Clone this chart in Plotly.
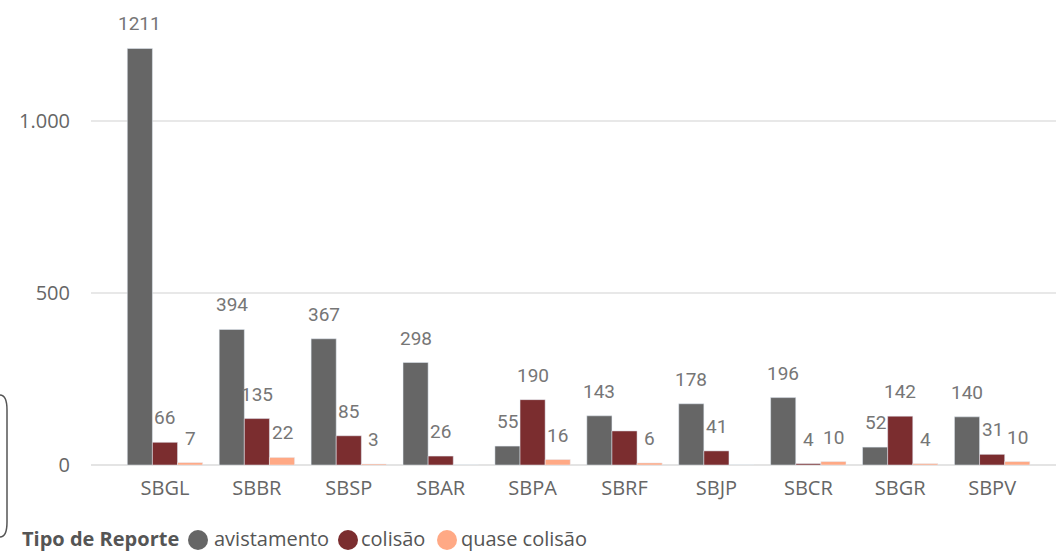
import plotly.graph_objects as go

categories = ["SBGL", "SBBR", "SBSP", "SBAR", "SBPA", "SBRF", "SBJP", "SBCR", "SBGR", "SBPV"]
avistamento = [1211, 394, 367, 298, 55, 143, 178, 196, 52, 140]
colisao = [66, 135, 85, 26, 190, 99, 41, 4, 142, 31]
quase_colisao = [7, 22, 3, 0, 16, 6, 0, 10, 4, 10]
series_names = ["avistamento", "colisão", "quase colisão"]
y_ticks = [0, 500, 1000]
y_tick_labels = ["0", "500", "1.000"]
legend_title = "Tipo de Reporte"

colors = ["#666666", "#7B2D2F", "#FFA985"]
series = [avistamento, colisao, quase_colisao]
# labels not shown in the reference
hidden = {(1, 5), (2, 3), (2, 6)}

W, H = 1056, 551
ML, MR, MT, MB = 91, 0, 0, 86
plot_w = W - ML - MR
plot_h = H - MT - MB
BARGAP = 0.18
bar_w = (1 - BARGAP) / len(series)

def px_to_paper(px, py):
    return (px - ML) / plot_w, (H - MB - py) / plot_h

fig = go.Figure()
for si, (name, vals, col) in enumerate(zip(series_names, series, colors)):
    fig.add_trace(go.Bar(
        x=categories, y=vals, name=name, marker_color=col,
        showlegend=False, hoverinfo="x+y+name",
    ))
    for ci, v in enumerate(vals):
        if (si, ci) in hidden:
            continue
        fig.add_annotation(
            x=ci + (si - 1) * bar_w, y=v, xref="x", yref="y",
            text=str(v), showarrow=False, yanchor="bottom", yshift=11,
            font=dict(family="Roboto, DejaVu Sans", size=19, color="#767676"),
        )

# legend drawn as text + circles, laid out like the reference
LEG_Y = 538
legend_font = dict(family="Open Sans, Segoe UI, sans-serif", size=20, color="#555555")
tx, ty = px_to_paper(20, LEG_Y)
fig.add_annotation(x=tx, y=ty, xref="paper", yref="paper", text="<b>" + legend_title + "</b>",
                   showarrow=False, xanchor="left", yanchor="middle", font=legend_font)
circle_px = [198, 348, 447]
text_px = [212, 359, 459]
for name, col, cx, txp in zip(series_names, colors, circle_px, text_px):
    px_, py_ = px_to_paper(cx, LEG_Y + 2)
    fig.add_shape(type="circle", xref="paper", yref="paper",
                  xsizemode="pixel", ysizemode="pixel", xanchor=px_, yanchor=py_,
                  x0=-10, x1=10, y0=-10, y1=10,
                  fillcolor=col, line=dict(width=0))
    ax, ay = px_to_paper(txp, LEG_Y)
    fig.add_annotation(x=ax, y=ay, xref="paper", yref="paper", text=name,
                       showarrow=False, xanchor="left", yanchor="middle", font=legend_font)

# rounded bracket at the left edge
pts = [(0, 395), (7, 410), (7, 522), (0, 537)]
(x0, y0), (x1, y1), (x2, y2), (x3, y3) = [px_to_paper(*p) for p in pts]
path = (f"M {x0},{y0} Q {x1},{y0} {x1},{y1} L {x2},{y2} Q {x2},{y3} {x3},{y3}")
fig.add_shape(type="path", path=path, xref="paper", yref="paper",
              line=dict(color="#555555", width=1.5))

fig.update_layout(
    width=W, height=H,
    margin=dict(l=ML, r=MR, t=MT, b=MB, pad=0, autoexpand=False),
    plot_bgcolor="white", paper_bgcolor="white",
    barmode="group", bargap=BARGAP, bargroupgap=0,
    showlegend=False,
    font=dict(family="Open Sans, Segoe UI, sans-serif", color="#666666"),
    xaxis=dict(
        range=[-0.805, 9.695], showgrid=False, showline=False,
        tickfont=dict(size=20, color="#666666"), ticks="",
        zeroline=False, automargin=False, ticklabelstandoff=9,
    ),
    yaxis=dict(
        range=[0, 1352], tickvals=y_ticks, ticktext=y_tick_labels,
        showgrid=True, gridcolor="#E8E8E8", gridwidth=1.5,
        zeroline=True, zerolinecolor="#E4E4E4", zerolinewidth=2,
        tickfont=dict(size=20, color="#666666"), ticks="",
        ticklabelstandoff=20, automargin=False,
    ),
)

fig.write_html("out.html", config={"displayModeBar": False},
               post_script="document.body.style.margin='0';")
